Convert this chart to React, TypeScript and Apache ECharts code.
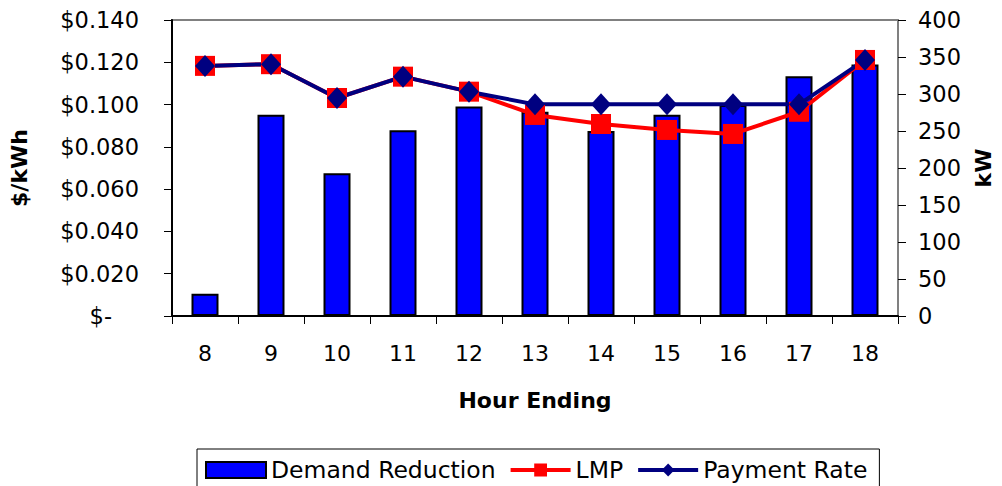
import React, { useEffect, useRef } from "react";
import * as echarts from "echarts";

const hours = ["8", "9", "10", "11", "12", "13", "14", "15", "16", "17", "18"];
const demandReduction = [30, 272, 193, 251, 283, 276, 250, 272, 285, 324, 340];
const lmp = [0.1183, 0.1191, 0.1031, 0.1132, 0.1061, 0.0951, 0.0908, 0.088, 0.0861, 0.0966, 0.1211];
const paymentRate = [0.1183, 0.1191, 0.1031, 0.1132, 0.1061, 0.1001, 0.1001, 0.1001, 0.1001, 0.1001, 0.1211];

const FONT = "'DejaVu Sans', 'Liberation Sans', Arial, sans-serif";

export default function App() {
  const ref = useRef<HTMLDivElement>(null);
  useEffect(() => {
    document.body.style.margin = "0";
    const chart = echarts.init(ref.current!, null, { renderer: "svg" });
    chart.setOption({
      animation: false,
      backgroundColor: "#ffffff",
      textStyle: { fontFamily: FONT, color: "#000" },
      grid: {
        left: 170,
        right: 102,
        top: 20,
        bottom: 170,
        show: true,
        borderColor: "#808080",
        borderWidth: 2,
        backgroundColor: "transparent",
      },
      legend: {
        left: 197,
        top: 449,
        padding: [9, 12, 14, 8],
        borderColor: "#000",
        borderWidth: 1,
        borderRadius: 0,
        itemGap: 13,
        itemWidth: 60,
        itemHeight: 16,
        textStyle: { fontFamily: FONT, fontSize: 23.5, color: "#000" },
        data: [
          { name: "Demand Reduction", icon: "rect", itemStyle: { borderColor: "#000", borderWidth: 2 } },
          { name: "LMP", lineStyle: { width: 4, color: "#FF0000" } },
          { name: "Payment Rate", lineStyle: { width: 4, color: "#000080" } },
        ],
      },
      xAxis: {
        type: "category",
        data: hours,
        name: "Hour Ending",
        nameLocation: "middle",
        nameGap: 73,
        nameTextStyle: { fontFamily: FONT, fontSize: 22, fontWeight: "bold", color: "#000" },
        axisLine: { lineStyle: { color: "#000", width: 2 } },
        axisTick: { show: true, inside: false, length: 8, alignWithLabel: false, lineStyle: { color: "#000", width: 1 } },
        axisLabel: { fontFamily: FONT, fontSize: 22, color: "#000", margin: 26 },
        splitLine: { show: false },
      },
      yAxis: [
        {
          type: "value",
          min: 0,
          max: 0.14,
          interval: 0.02,
          name: "$/kWh",
          nameLocation: "middle",
          nameRotate: 90,
          nameGap: 142,
          nameTextStyle: { fontFamily: FONT, fontSize: 22, fontWeight: "bold", color: "#000" },
          axisLine: { show: true, lineStyle: { color: "#000", width: 2 } },
          axisTick: { show: true, length: 8, lineStyle: { color: "#000", width: 1 } },
          axisLabel: {
            fontFamily: FONT,
            fontSize: 22.5,
            color: "#000",
            margin: 33,
            formatter: (v: number) => (v === 0 ? "{d|$-}" : "$" + v.toFixed(3)),
            rich: { d: { fontFamily: FONT, fontSize: 22.5, color: "#000", padding: [0, 27, 0, 0] } },
          },
          splitLine: { show: false },
        },
        {
          type: "value",
          min: 0,
          max: 400,
          interval: 50,
          name: "kW",
          nameLocation: "middle",
          nameRotate: 90,
          nameGap: 74,
          nameTextStyle: { fontFamily: FONT, fontSize: 22, fontWeight: "bold", color: "#000" },
          axisLine: { show: true, lineStyle: { color: "#808080", width: 2 } },
          axisTick: { show: true, length: 8, lineStyle: { color: "#000", width: 1 } },
          axisLabel: { fontFamily: FONT, fontSize: 22.5, color: "#000", margin: 20 },
          splitLine: { show: false },
        },
      ],
      series: [
        {
          name: "Demand Reduction",
          type: "bar",
          yAxisIndex: 1,
          data: demandReduction,
          barWidth: 27,
          itemStyle: { color: "#0000FF", borderColor: "#000", borderWidth: 2 },
        },
        {
          name: "LMP",
          type: "line",
          yAxisIndex: 0,
          data: lmp,
          symbol: "rect",
          symbolSize: 20,
          lineStyle: { color: "#FF0000", width: 4 },
          itemStyle: { color: "#FF0000" },
        },
        {
          name: "Payment Rate",
          type: "line",
          yAxisIndex: 0,
          data: paymentRate,
          symbol: "diamond",
          symbolSize: [20, 22],
          lineStyle: { color: "#000080", width: 4 },
          itemStyle: { color: "#000080" },
        },
      ],
    });
    return () => chart.dispose();
  }, []);
  return <div ref={ref} style={{ width: 1002, height: 486 }} />;
}
